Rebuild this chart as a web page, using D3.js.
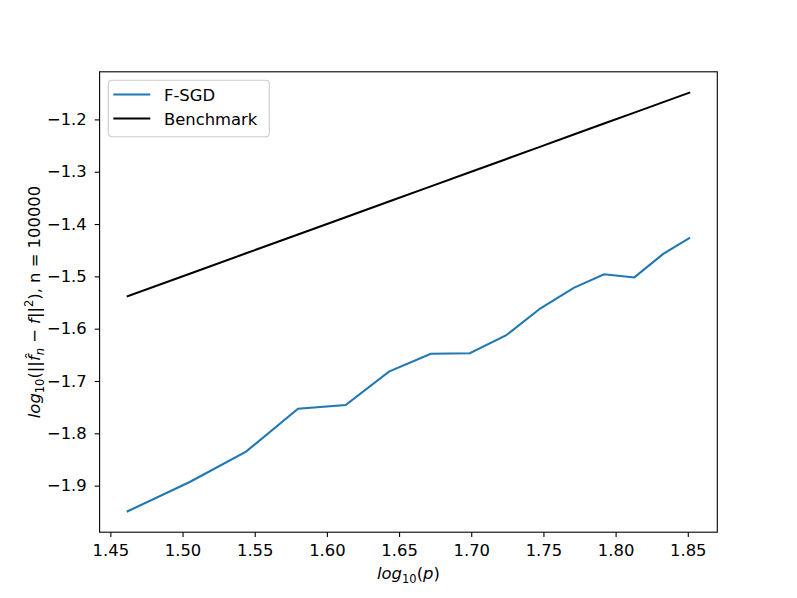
<!DOCTYPE html>
<html>
<head>
<meta charset="utf-8">
<script src="https://cdn.jsdelivr.net/npm/d3@7"></script>
<style>
  body { margin: 0; background: #fff; }
  svg { font-family: "DejaVu Sans", sans-serif; }
</style>
</head>
<body>
<svg id="chart" width="797" height="598"></svg>
<script>
// log10(p) values along the x axis
const logP = [1.462, 1.505, 1.544, 1.580, 1.613, 1.643, 1.672, 1.699, 1.724, 1.748, 1.771, 1.792, 1.813, 1.833, 1.851];
// F-SGD error
const fsgd = [-1.949, -1.893, -1.835, -1.753, -1.746, -1.682, -1.648, -1.647, -1.613, -1.561, -1.522, -1.496, -1.502, -1.457, -1.427];
// benchmark line
const benchmark = [-1.538, -1.495, -1.456, -1.420, -1.387, -1.357, -1.328, -1.301, -1.276, -1.252, -1.229, -1.208, -1.187, -1.167, -1.149];
const xTicks = [1.45, 1.50, 1.55, 1.60, 1.65, 1.70, 1.75, 1.80, 1.85];
const yTicks = [-1.9, -1.8, -1.7, -1.6, -1.5, -1.4, -1.3, -1.2];

const W = 797, H = 598;
const margin = { top: 71.8, bottom: 65.8, left: 99.6, right: 79.7 };
const innerW = W - margin.left - margin.right;
const innerH = H - margin.top - margin.bottom;
const fs = 16.4;   // font size
const fsSub = 11.5;

const svg = d3.select("#chart");
const g = svg.append("g").attr("transform", `translate(${margin.left},${margin.top})`);

// matplotlib style 5% margins
const xMin = d3.min(logP), xMax = d3.max(logP);
const xPad = (xMax - xMin) * 0.05;
const yMin = d3.min(fsgd.concat(benchmark)), yMax = d3.max(fsgd.concat(benchmark));
const yPad = (yMax - yMin) * 0.05;

const x = d3.scaleLinear().domain([xMin - xPad, xMax + xPad]).range([0, innerW]);
const y = d3.scaleLinear().domain([yMin - yPad, yMax + yPad]).range([innerH, 0]);

const line = d3.line().x(d => x(d[0])).y(d => y(d[1]));

g.append("path")
  .datum(logP.map((v, i) => [v, fsgd[i]]))
  .attr("d", line)
  .attr("fill", "none")
  .attr("stroke", "#1f77b4")
  .attr("stroke-width", 2.08)
  .attr("stroke-linecap", "square");

g.append("path")
  .datum(logP.map((v, i) => [v, benchmark[i]]))
  .attr("d", line)
  .attr("fill", "none")
  .attr("stroke", "#000")
  .attr("stroke-width", 2.08)
  .attr("stroke-linecap", "square");

// axes
const xAxis = g.append("g")
  .attr("transform", `translate(0,${innerH})`)
  .call(d3.axisBottom(x).tickValues(xTicks).tickFormat(d3.format(".2f")).tickSizeInner(4.86).tickSizeOuter(0).tickPadding(7));
const yAxis = g.append("g")
  .call(d3.axisLeft(y).tickValues(yTicks).tickFormat(d => d3.format(".1f")(d).replace("-", "\u2212")).tickSizeInner(4.86).tickSizeOuter(0).tickPadding(8));

[xAxis, yAxis].forEach(a => {
  a.select(".domain").remove();
  a.selectAll("line").attr("stroke", "#000").attr("stroke-width", 1.1);
  a.selectAll("text").attr("font-size", fs).attr("font-family", "DejaVu Sans").attr("fill", "#000");
});

// frame
g.append("rect")
  .attr("width", innerW).attr("height", innerH)
  .attr("fill", "none").attr("stroke", "#000").attr("stroke-width", 1.1);

// x label
const xl = svg.append("text")
  .attr("x", margin.left + innerW / 2).attr("y", 579)
  .attr("text-anchor", "middle").attr("font-size", fs);
xl.append("tspan").attr("font-style", "italic").text("log");
xl.append("tspan").attr("font-size", fsSub).attr("dy", 3.5).text("10");
xl.append("tspan").attr("dy", -3.5).text("(");
xl.append("tspan").attr("font-style", "italic").text("p");
xl.append("tspan").text(")");

// y label
const yl = svg.append("text")
  .attr("transform", `translate(40,${margin.top + innerH / 2}) rotate(-90)`)
  .attr("text-anchor", "middle").attr("font-size", fs);
yl.append("tspan").attr("font-style", "italic").text("log");
yl.append("tspan").attr("font-size", fsSub).attr("dy", 3.5).text("10");
yl.append("tspan").attr("dy", -3.5).text("(||");
yl.append("tspan").attr("font-style", "italic").text("f\u0302");
yl.append("tspan").attr("font-style", "italic").attr("font-size", fsSub).attr("dy", 3.5).text("n");
yl.append("tspan").attr("dy", -3.5).text(" \u2212 ");
yl.append("tspan").attr("font-style", "italic").text("f");
yl.append("tspan").text("||");
yl.append("tspan").attr("font-size", fsSub).attr("dy", -7).text("2");
yl.append("tspan").attr("dy", 7).text("), n = 100000");

// legend
const legendItems = [
  { name: "F-SGD", color: "#1f77b4" },
  { name: "Benchmark", color: "#000" }
];
const lg = g.append("g").attr("transform", "translate(8.7,8.4)");
lg.append("rect")
  .attr("width", 161).attr("height", 56.5).attr("rx", 3.5)
  .attr("fill", "#fff").attr("fill-opacity", 0.8)
  .attr("stroke", "#ccc").attr("stroke-width", 1.1);
legendItems.forEach((d, i) => {
  const row = lg.append("g").attr("transform", `translate(0,${14.3 + i * 24})`);
  row.append("line").attr("x1", 5).attr("x2", 42).attr("stroke", d.color).attr("stroke-width", 2.08);
  row.append("text").attr("x", 55.7).attr("y", 6).attr("font-size", fs).text(d.name);
});
</script>
</body>
</html>
